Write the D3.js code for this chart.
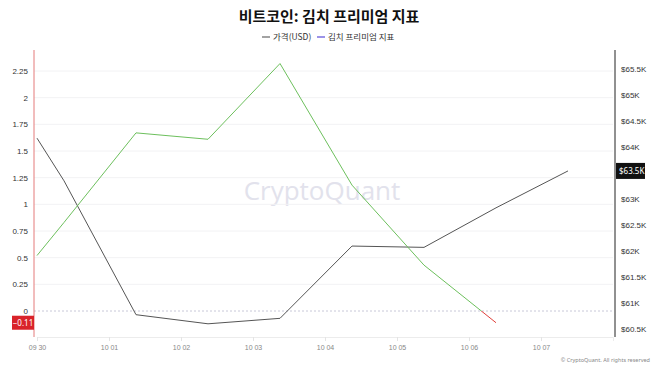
<!DOCTYPE html>
<html>
<head>
<meta charset="utf-8">
<script src="https://cdn.jsdelivr.net/npm/d3@7"></script>
<style>
  body { margin: 0; background: #fff; }
  svg { display: block; font-family: "Noto Sans", "Noto Sans CJK KR", sans-serif; }
</style>
</head>
<body>
<div id="chart"></div>
<script>
// 데이터
const dates = ['2024-09-30T00:00', '2024-09-30T09:00', '2024-10-01T09:00', '2024-10-02T09:00',
               '2024-10-03T09:00', '2024-10-04T09:00', '2024-10-05T09:00', '2024-10-06T09:00', '2024-10-07T09:00'];
const priceUsd = [64170, 63350, 60775, 60600, 60705, 62095, 62070, 62830, 63540];
const kimchiPremium = [0.52, 0.83, 1.67, 1.61, 2.32, 1.18, 0.43, -0.11, null];
const leftTicks = [0, 0.25, 0.5, 0.75, 1, 1.25, 1.5, 1.75, 2, 2.25];
const rightTicks = [60500, 61000, 61500, 62000, 62500, 63000, 63500, 64000, 64500, 65000, 65500];
const xTickDates = ['2024-09-30', '2024-10-01', '2024-10-02', '2024-10-03', '2024-10-04', '2024-10-05', '2024-10-06', '2024-10-07'];

const width = 658, height = 370;
const parse = d3.timeParse('%Y-%m-%dT%H:%M');
const parseDay = d3.timeParse('%Y-%m-%d');

const svg = d3.select('#chart').append('svg')
    .attr('width', width)
    .attr('height', height);

const plotTop = 50, plotBottom = 337, plotLeft = 34, plotRight = 615;

const x = d3.scaleTime()
    .domain([parseDay('2024-09-30'), parseDay('2024-10-08')])
    .range([37, 613]);

// 왼쪽 축: 0 -> 311, 2.25 -> 71
const yL = d3.scaleLinear().domain([0, 2.25]).range([311, 71]);
// 오른쪽 축: 60.5K -> 329, 65.5K -> 69
const yR = d3.scaleLinear().domain([60500, 65500]).range([329, 69]);

const lastP = priceUsd[priceUsd.length - 1];
const kimchiData = dates.map((d, i) => ({ date: parse(d), value: kimchiPremium[i] })).filter(d => d.value !== null);
const lastK = kimchiData[kimchiData.length - 1].value;

// 제목
svg.append('text')
    .attr('x', 329).attr('y', 22)
    .attr('text-anchor', 'middle')
    .attr('font-family', '"Noto Sans CJK KR", sans-serif')
    .attr('font-size', 15).attr('font-weight', 'bold')
    .attr('fill', '#111')
    .text('비트코인: 김치 프리미엄 지표');

// 범례
const legend = svg.append('g').attr('font-family', '"Noto Sans CJK KR", sans-serif').attr('font-size', 8.5).attr('fill', '#333');
legend.append('line').attr('x1', 262).attr('x2', 270).attr('y1', 37).attr('y2', 37).attr('stroke', '#666').attr('stroke-width', 1.2);
legend.append('text').attr('x', 273).attr('y', 40).text('가격(USD)');
legend.append('line').attr('x1', 317).attr('x2', 325).attr('y1', 37).attr('y2', 37).attr('stroke', '#7b6fe0').attr('stroke-width', 1.5);
legend.append('text').attr('x', 328).attr('y', 40).text('김치 프리미엄 지표');

// 워터마크
svg.append('text')
    .attr('x', 322).attr('y', 200)
    .attr('text-anchor', 'middle')
    .attr('font-family', '"Open Sans", "Noto Sans", sans-serif')
    .attr('font-size', 26)
    .attr('fill', '#e2e2ec')
    .text('CryptoQuant');

// 격자선
svg.append('g')
    .selectAll('line')
    .data(leftTicks.filter(d => d !== 0))
    .enter().append('line')
    .attr('x1', plotLeft).attr('x2', 613)
    .attr('y1', d => yL(d)).attr('y2', d => yL(d))
    .attr('stroke', '#f2f2f4');

// 0 기준 점선
svg.append('line')
    .attr('x1', plotLeft).attr('x2', 613)
    .attr('y1', yL(0)).attr('y2', yL(0))
    .attr('stroke', '#c8c8d8')
    .attr('stroke-dasharray', '2,2');

// x축
const xAxis = svg.append('g')
    .attr('transform', `translate(0,${plotBottom})`)
    .call(d3.axisBottom(x)
        .tickValues(xTickDates.map(parseDay))
        .tickSize(4)
        .tickFormat(d3.timeFormat('%m %d')));
xAxis.select('.domain').attr('stroke', '#ececec');
xAxis.selectAll('.tick line').attr('stroke', '#e4e4e4');
xAxis.selectAll('.tick text').attr('fill', '#888').attr('font-size', 7).attr('dy', '0.9em');

// 왼쪽 축
const leftAxis = svg.append('g')
    .attr('transform', `translate(${plotLeft},0)`)
    .call(d3.axisLeft(yL).tickValues(leftTicks).tickSize(0).tickPadding(6).tickFormat(d3.format('~g')));
leftAxis.select('.domain').remove();
leftAxis.selectAll('.tick text').attr('fill', '#333').attr('font-size', 8);
svg.append('line')
    .attr('x1', plotLeft).attr('x2', plotLeft)
    .attr('y1', plotTop).attr('y2', plotBottom)
    .attr('stroke', '#e47a7a').attr('stroke-width', 1);

// 오른쪽 축 (마지막 값 상자에 가려지는 눈금은 숨김)
const rightAxis = svg.append('g')
    .attr('transform', `translate(${plotRight},0)`)
    .call(d3.axisRight(yR).tickValues(rightTicks.filter(t => Math.abs(yR(t) - yR(lastP)) > 8))
        .tickSize(0).tickPadding(6)
        .tickFormat(d => '$' + d3.format('~g')(d / 1000) + 'K'));
rightAxis.select('.domain').remove();
rightAxis.selectAll('.tick text').attr('fill', '#333').attr('font-size', 8);
svg.append('line')
    .attr('x1', plotRight).attr('x2', plotRight)
    .attr('y1', plotTop).attr('y2', plotBottom)
    .attr('stroke', '#222').attr('stroke-width', 1);

// 가격 선
const priceData = dates.map((d, i) => ({ date: parse(d), value: priceUsd[i] }));
svg.append('path')
    .datum(priceData)
    .attr('fill', 'none')
    .attr('stroke', '#555')
    .attr('stroke-width', 1)
    .attr('d', d3.line().x(d => x(d.date)).y(d => yR(d.value)));

// 김치 프리미엄 선 (0 아래는 빨간색)
const grad = svg.append('defs').append('linearGradient')
    .attr('id', 'kimchiGrad')
    .attr('gradientUnits', 'userSpaceOnUse')
    .attr('x1', 0).attr('x2', 0)
    .attr('y1', plotTop).attr('y2', plotBottom);
const zeroOffset = (yL(0) - plotTop) / (plotBottom - plotTop);
grad.append('stop').attr('offset', zeroOffset).attr('stop-color', '#6cbf5c');
grad.append('stop').attr('offset', zeroOffset).attr('stop-color', '#e0403a');
svg.append('path')
    .datum(kimchiData)
    .attr('fill', 'none')
    .attr('stroke', 'url(#kimchiGrad)')
    .attr('stroke-width', 1)
    .attr('d', d3.line().x(d => x(d.date)).y(d => yL(d.value)));

// 마지막 값 표시
svg.append('rect')
    .attr('x', 12).attr('y', yL(lastK) - 7)
    .attr('width', 22).attr('height', 14)
    .attr('fill', '#d9232a');
svg.append('text')
    .attr('x', 23).attr('y', yL(lastK) + 3)
    .attr('text-anchor', 'middle')
    .attr('font-size', 8).attr('fill', '#fff')
    .text(d3.format('.2f')(lastK));

svg.append('rect')
    .attr('x', plotRight + 1).attr('y', yR(lastP) - 8)
    .attr('width', 29).attr('height', 16)
    .attr('fill', '#111');
svg.append('text')
    .attr('x', plotRight + 4).attr('y', yR(lastP) + 3)
    .attr('font-size', 8).attr('fill', '#fff')
    .text('$' + d3.format('.1f')(lastP / 1000) + 'K');

// 저작권
svg.append('text')
    .attr('x', 650).attr('y', 362)
    .attr('text-anchor', 'end')
    .attr('font-size', 5.5).attr('fill', '#888')
    .text('© CryptoQuant. All rights reserved');
</script>
</body>
</html>
